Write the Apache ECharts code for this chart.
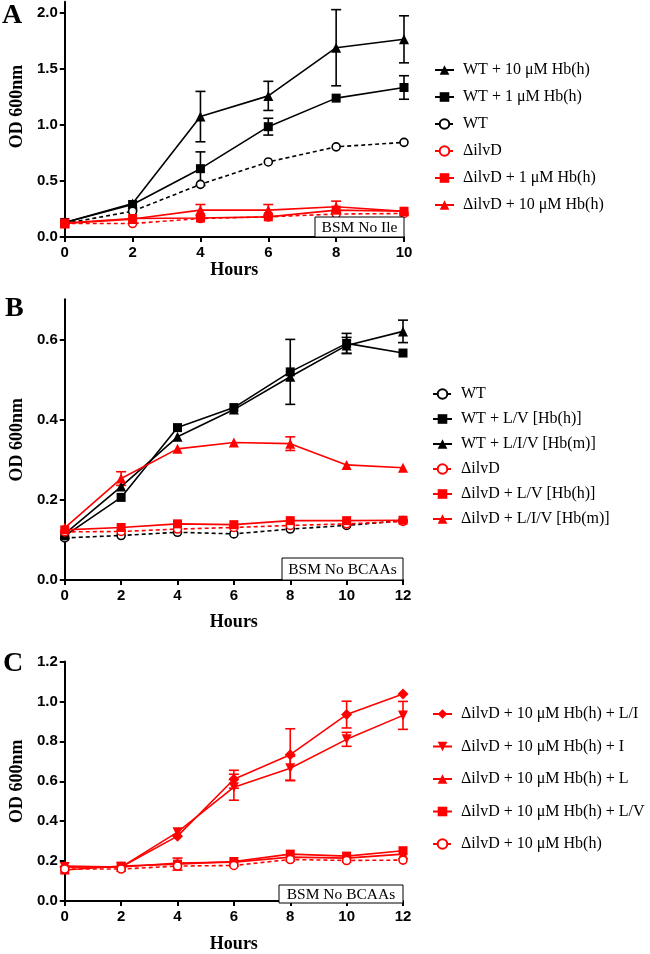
<!DOCTYPE html>
<html><head><meta charset="utf-8">
<script src="https://cdn.jsdelivr.net/npm/echarts@6/dist/echarts.min.js"></script>
<style>html,body{margin:0;padding:0;background:#fff}#c{width:650px;height:954px}</style>
</head><body><div id="c"></div>
<script>
// ---------- data ----------
const hoursA = [0, 2, 4, 6, 8, 10];
const hoursBC = [0, 2, 4, 6, 8, 10, 12];

// Panel A (BSM No Ile)
const namesA = ['WT + 10 μM Hb(h)', 'WT + 1 μM Hb(h)', 'WT', 'ΔilvD', 'ΔilvD + 1 μM Hb(h)', 'ΔilvD + 10 μM Hb(h)'];
const aWT10 = [0.13, 0.30, 1.075, 1.26, 1.69, 1.765];
const aWT10err = [0, 0, 0.225, 0.13, 0.34, 0.21];
const aWT1 = [0.13, 0.29, 0.61, 0.985, 1.24, 1.335];
const aWT1err = [0, 0, 0.15, 0.075, 0, 0.105];
const aWT = [0.12, 0.23, 0.47, 0.67, 0.805, 0.845];
const aD = [0.12, 0.12, 0.165, 0.18, 0.205, 0.21];
const aD1 = [0.125, 0.165, 0.17, 0.18, 0.24, 0.23];
const aD10 = [0.12, 0.16, 0.24, 0.24, 0.27, 0.23];
const aD10err = [0, 0, 0.05, 0.05, 0.05, 0];

// Panel B (BSM No BCAAs)
const namesB = ['WT', 'WT + L/V [Hb(h)]', 'WT + L/I/V [Hb(m)]', 'ΔilvD', 'ΔilvD + L/V [Hb(h)]', 'ΔilvD + L/I/V [Hb(m)]'];
const bWT = [0.105, 0.111, 0.119, 0.115, 0.127, 0.136, 0.148];
const bWTLV = [0.11, 0.206, 0.38, 0.43, 0.519, 0.59, 0.566];
const bWTLVerr = [0, 0, 0, 0, 0.081, 0.025, 0];
const bWTLIV = [0.115, 0.233, 0.357, 0.425, 0.507, 0.585, 0.62];
const bWTLIVerr = [0, 0, 0, 0, 0, 0.02, 0.028];
const bD = [0.12, 0.121, 0.127, 0.131, 0.136, 0.14, 0.146];
const bDLV = [0.125, 0.131, 0.14, 0.138, 0.148, 0.148, 0.149];
const bDLIV = [0.13, 0.253, 0.327, 0.343, 0.34, 0.287, 0.28];
const bDLIVerr = [0, 0.017, 0, 0, 0.017, 0, 0];

// Panel C (BSM No BCAAs)
const namesC = ['ΔilvD + 10 μM Hb(h) + L/I', 'ΔilvD + 10 μM Hb(h) + I', 'ΔilvD + 10 μM Hb(h) + L', 'ΔilvD + 10 μM Hb(h) + L/V', 'ΔilvD + 10 μM Hb(h)'];
const cLI = [0.17, 0.17, 0.325, 0.61, 0.733, 0.934, 1.037];
const cLIerr = [0, 0, 0, 0.045, 0.13, 0.067, 0];
const cI = [0.17, 0.17, 0.345, 0.57, 0.665, 0.81, 0.93];
const cIerr = [0, 0, 0, 0.065, 0.06, 0.035, 0.07];
const cL = [0.175, 0.17, 0.19, 0.195, 0.22, 0.215, 0.235];
const cLV = [0.155, 0.175, 0.185, 0.198, 0.235, 0.225, 0.252];
const cLVerr = [0, 0, 0.03, 0, 0, 0, 0];
const cD = [0.16, 0.16, 0.175, 0.178, 0.208, 0.203, 0.205];

const yTicksA = [0, 0.5, 1.0, 1.5, 2.0];
const yTicksB = [0, 0.2, 0.4, 0.6];
const yTicksC = [0, 0.2, 0.4, 0.6, 0.8, 1.0, 1.2];

// ---------- helpers ----------
const BLACK = '#000000', RED = '#ff0000';
const serif = 'Liberation Serif';
const sans = 'Liberation Sans';
// series ids per panel keep same legend names apart
const TAG = ['', '\u200b', '\u200b\u200b'];
const key = (p, n) => n + TAG[p];
const strip = n => n.replace(/\u200b/g, '');

function line(p, name, hours, vals, color, symbol, opts) {
  opts = opts || {};
  const open = symbol === 'open';
  return {
    type: 'line', name: key(p, name), xAxisIndex: p, yAxisIndex: p,
    data: hours.map((h, i) => [h, vals[i]]),
    symbol: open ? 'circle' : symbol,
    symbolSize: opts.size || (open ? 8 : 10),
    symbolRotate: opts.rotate || 0,
    lineStyle: { color: color, width: 1.6, type: opts.dashed ? [4, 3] : 'solid' },
    itemStyle: open ? { color: '#ffffff', borderColor: color, borderWidth: 1.6 } : { color: color, borderWidth: 0 },
    emphasis: { disabled: true },
    z: 3,
    animation: false
  };
}
function errs(p, hours, vals, e, color) {
  const d = [];
  hours.forEach((h, i) => { if (e[i] > 0) d.push([h, vals[i], e[i]]); });
  return {
    type: 'custom', xAxisIndex: p, yAxisIndex: p, data: d, z: 2, silent: true, animation: false,
    renderItem: function (params, api) {
      const x = api.value(0), y = api.value(1), er = api.value(2);
      const top = api.coord([x, y + er]), bot = api.coord([x, y - er]);
      const w = 5;
      const st = { stroke: color, lineWidth: 1.6, fill: null };
      return { type: 'group', children: [
        { type: 'line', shape: { x1: top[0], y1: top[1], x2: bot[0], y2: bot[1] }, style: st },
        { type: 'line', shape: { x1: top[0] - w, y1: top[1], x2: top[0] + w, y2: top[1] }, style: st },
        { type: 'line', shape: { x1: bot[0] - w, y1: bot[1], x2: bot[0] + w, y2: bot[1] }, style: st }
      ] };
    }
  };
}
function xAx(idx, max, gap) {
  return {
    type: 'value', gridIndex: idx, min: 0, max: max, interval: 2,
    name: 'Hours', nameLocation: 'middle', nameGap: gap,
    nameTextStyle: { fontFamily: serif, fontWeight: 'bold', fontSize: 18, color: '#000' },
    axisLine: { show: true, onZero: false, lineStyle: { color: '#000', width: 2 } },
    axisTick: { show: true, length: 5, lineStyle: { color: '#000', width: 2 } },
    axisLabel: { margin: 8, fontFamily: sans, fontWeight: 'bold', fontSize: 15, color: '#000' },
    splitLine: { show: false }
  };
}
function yAx(idx, max, ticks, pad) {
  return {
    type: 'value', gridIndex: idx, min: 0, max: max,
    name: 'OD 600nm', nameLocation: 'middle', nameGap: 32, nameRotate: 90,
    nameTextStyle: { fontFamily: serif, fontWeight: 'bold', fontSize: 18, color: '#000', padding: pad || 0 },
    axisLine: { show: true, onZero: false, lineStyle: { color: '#000', width: 2 } },
    axisTick: { show: true, length: 5, customValues: ticks, lineStyle: { color: '#000', width: 2 } },
    axisLabel: { margin: 7, customValues: ticks, fontFamily: sans, fontWeight: 'bold', fontSize: 15, color: '#000',
      formatter: v => v.toFixed(1) },
    splitLine: { show: false }
  };
}
function leg(p, names, left, top, gap) {
  return {
    data: names.map(n => key(p, n)), orient: 'vertical', left: left, top: top, itemGap: gap,
    itemWidth: 19, itemHeight: 12, selectedMode: false, padding: 0,
    formatter: strip,
    textStyle: { fontFamily: serif, fontSize: 16, color: '#000', padding: [0, 0, 0, 4] }
  };
}
function box(label, x1, y1, x2, y2) {
  return { type: 'group', children: [
    { type: 'rect', shape: { x: x1, y: y1, width: x2 - x1, height: y2 - y1 },
      style: { fill: '#fff', stroke: '#000', lineWidth: 1 }, z: 10 },
    { type: 'text', x: (x1 + x2) / 2, y: (y1 + y2) / 2 + 1, z: 11,
      style: { text: label, fontFamily: serif, fontSize: 15.5, fill: '#000', align: 'center', verticalAlign: 'middle' } }
  ] };
}
function letter(t, x, y) {
  return { type: 'text', x: x, y: y, z: 11,
    style: { text: t, fontFamily: serif, fontWeight: 'bold', fontSize: 28, fill: '#000' } };
}

const chart = echarts.init(document.getElementById('c'), null, { renderer: 'canvas' });
chart.setOption({
  animation: false,
  backgroundColor: '#fff',
  tooltip: { show: false },
  grid: [
    { left: 62, top: 1.8, width: 342, height: 235.2 },
    { left: 62, top: 299.3, width: 341, height: 280.7 },
    { left: 62, top: 661.5, width: 341, height: 241.5 }
  ],
  xAxis: [xAx(0, 10, 22), xAx(1, 12, 33), xAx(2, 12, 34)],
  yAxis: [yAx(0, 2.1, yTicksA, [0, 0, 0, 26]), yAx(1, 0.7, yTicksB), yAx(2, 1.2, yTicksC)],
  legend: [
    leg(0, namesA, 434, 62, 11),
    leg(1, namesB, 432, 386, 9),
    leg(2, namesC, 432, 706, 16.5)
  ],
  series: [
    line(0, namesA[0], hoursA, aWT10, BLACK, 'triangle', { size: 10 }),
    line(0, namesA[1], hoursA, aWT1, BLACK, 'rect', { size: 9 }),
    line(0, namesA[2], hoursA, aWT, BLACK, 'open', { dashed: true }),
    line(0, namesA[3], hoursA, aD, RED, 'open', { dashed: true }),
    line(0, namesA[4], hoursA, aD1, RED, 'rect', { size: 9 }),
    line(0, namesA[5], hoursA, aD10, RED, 'triangle', { size: 10 }),
    errs(0, hoursA, aWT10, aWT10err, BLACK),
    errs(0, hoursA, aWT1, aWT1err, BLACK),
    errs(0, hoursA, aD10, aD10err, RED),

    line(1, namesB[0], hoursBC, bWT, BLACK, 'open', { dashed: true }),
    line(1, namesB[1], hoursBC, bWTLV, BLACK, 'rect', { size: 9 }),
    line(1, namesB[2], hoursBC, bWTLIV, BLACK, 'triangle', { size: 10 }),
    line(1, namesB[3], hoursBC, bD, RED, 'open', { dashed: true }),
    line(1, namesB[4], hoursBC, bDLV, RED, 'rect', { size: 9 }),
    line(1, namesB[5], hoursBC, bDLIV, RED, 'triangle', { size: 10 }),
    errs(1, hoursBC, bWTLV, bWTLVerr, BLACK),
    errs(1, hoursBC, bWTLIV, bWTLIVerr, BLACK),
    errs(1, hoursBC, bDLIV, bDLIVerr, RED),

    line(2, namesC[0], hoursBC, cLI, RED, 'diamond', { size: 11 }),
    line(2, namesC[1], hoursBC, cI, RED, 'triangle', { size: 10, rotate: 180 }),
    line(2, namesC[2], hoursBC, cL, RED, 'triangle', { size: 10 }),
    line(2, namesC[3], hoursBC, cLV, RED, 'rect', { size: 9 }),
    line(2, namesC[4], hoursBC, cD, RED, 'open', { dashed: true }),
    errs(2, hoursBC, cLI, cLIerr, RED),
    errs(2, hoursBC, cI, cIerr, RED),
    errs(2, hoursBC, cLV, cLVerr, RED)
  ],
  graphic: [
    box('BSM No Ile', 315, 217, 404, 237),
    box('BSM No BCAAs', 282, 558, 403, 580),
    box('BSM No BCAAs', 279, 885, 403, 903),
    letter('A', 2, 2),
    letter('B', 5, 295),
    letter('C', 3, 650)
  ]
});
</script>
</body></html>
